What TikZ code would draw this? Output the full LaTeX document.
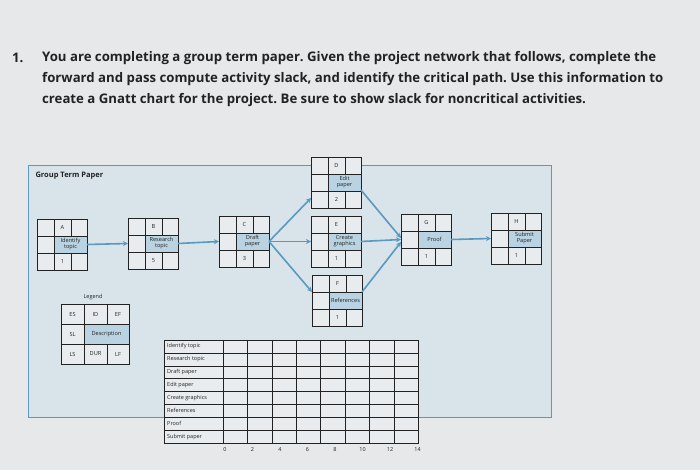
\documentclass[tikz,border=0pt]{standalone}
\usepackage{fontspec}
\setmainfont{Open Sans}
\usetikzlibrary{arrows.meta}
\definecolor{page}{HTML}{E6E8EA}
\definecolor{panel}{HTML}{D8E3EA}
\definecolor{edge}{HTML}{5A9AC0}
\definecolor{desc}{HTML}{B9D3E2}
\definecolor{cellc}{HTML}{E9ECEE}
\definecolor{ink}{HTML}{222222}
\tikzset{
  link/.style={edge,line width=1.6pt,-{Stealth[length=5pt,width=5pt]}},
  lbl/.style={font=\fontsize{5.6}{6}\selectfont,text=ink,align=center,inner sep=0pt},
  qtext/.style={font=\fontsize{13.2}{16}\selectfont\bfseries,text=ink,anchor=west,inner sep=0pt},
}
\newcommand{\actbox}[6]{% name, x, y, id, description, dur
  \begin{scope}[shift={(#2,#3)}]
  \fill[cellc] (0,0) rectangle (50,51);
  \fill[desc] (17,17) rectangle (50,34);
  \draw[ink,line width=0.8pt] (0,0) rectangle (50,51);
  \draw[ink,line width=0.5pt] (0,17)--(50,17) (0,34)--(50,34) (17,0)--(17,51) (34,0)--(34,17) (34,34)--(34,51);
  \node[lbl] at (25.5,8.5) {#4};
  \node[lbl] at (33.5,25.5) {#5};
  \node[lbl] at (25.5,42.5) {#6};
  \coordinate (#1) at (25,25.5);
  \coordinate (#1w) at (0,25.5);
  \coordinate (#1e) at (50,25.5);
  \end{scope}}
\begin{document}
\begin{tikzpicture}[x=1pt,y=-1pt]
\fill[page] (0,0) rectangle (700,470);
\useasboundingbox (0,0) rectangle (700,470);
\node[qtext] (num) at (12,58) {1.};
\node[qtext] (l1) at (42,58) {You are completing a group term paper.\ Given the project network that follows, complete the};
\node[qtext] (l2) at (42,79) {forward and pass compute activity slack, and identify the critical path.\ Use this information to};
\node[qtext] (l3) at (42,100) {create a Gnatt chart for the project.\ Be sure to show slack for noncritical activities.};
\fill[panel] (28,165) rectangle (551,417);
\draw[edge,line width=0.8pt] (28,165) rectangle (551,417);
\node[font=\fontsize{7.5}{8}\selectfont\bfseries,text=ink,anchor=west] (title) at (32,176) {Group Term Paper};
\actbox{A}{37}{219}{A}{Identify\\topic}{1}
\actbox{B}{128}{218}{B}{Research\\topic}{5}
\actbox{C}{219}{216}{C}{Draft\\paper}{3}
\actbox{D}{311}{157}{D}{Edit\\paper}{2}
\actbox{E}{311}{216}{E}{Create\\graphics}{1}
\actbox{F}{312}{275}{F}{References}{1}
\actbox{G}{401}{214}{G}{Proof}{1}
\actbox{H}{491}{213}{H}{Submit\\Paper}{1}
\draw[link] (Ae) -- (Bw);
\draw[link] (Be) -- (Cw);
\draw[link] (Ce) -- (311,198);
\draw[link] (Ce) -- (Ew);
\draw[link] (Ce) -- (312,292);
\draw[link] (361,190) -- (401,238);
\draw[link] (Ee) -- (Gw);
\draw[link] (362,292) -- (401,242);
\draw[link] (Ge) -- (Hw);
% legend
\node[font=\fontsize{5.5}{6}\selectfont,text=ink] (leg) at (93,297) {Legend};
\begin{scope}[shift={(61,304)}]
  \fill[cellc] (0,0) rectangle (68,60);
  \fill[desc] (23,20) rectangle (68,40);
  \draw[ink,line width=0.8pt] (0,0) rectangle (68,60);
  \draw[ink,line width=0.5pt] (0,20)--(68,20) (0,40)--(68,40) (23,0)--(23,60) (46,0)--(46,20) (46,40)--(46,60);
  \node[lbl] at (11.5,10) {ES}; \node[lbl] at (34.5,10) {ID}; \node[lbl] at (57,10) {EF};
  \node[lbl] at (11.5,30) {SL}; \node[lbl] at (45.5,30) {Description};
  \node[lbl] at (11.5,50) {LS}; \node[lbl] at (34.5,50) {DUR}; \node[lbl] at (57,50) {LF};
\end{scope}
% gantt
\begin{scope}[shift={(164,340)}]
  \fill[cellc] (0,0) rectangle (254,103);
  \foreach \r [count=\i from 0] in {Identify topic,Research topic,Draft paper,Edit paper,Create graphics,References,Proof,Submit paper}
    \node[lbl,anchor=west,font=\fontsize{5.5}{6}\selectfont] at (3,{6.4+\i*12.9}) {\r};
  \foreach \i in {1,...,7} \draw[ink,line width=0.5pt] (0,{\i*12.9}) -- (254,{\i*12.9});
  \draw[ink,line width=0.5pt] (59,0) -- (59,103);
  \foreach \i in {1,...,7} \draw[ink,line width=0.5pt] ({59+\i*24.4},0) -- ({59+\i*24.4},103);
  \draw[ink,line width=0.8pt] (0,0) rectangle (254,103);
  \foreach \t [count=\i from 0] in {0,2,4,6,8,10,12,14}
    \node[lbl,font=\fontsize{5.5}{6}\selectfont] at ({61+\i*27.5},110) {\t};
\end{scope}
\end{tikzpicture}
\end{document}
